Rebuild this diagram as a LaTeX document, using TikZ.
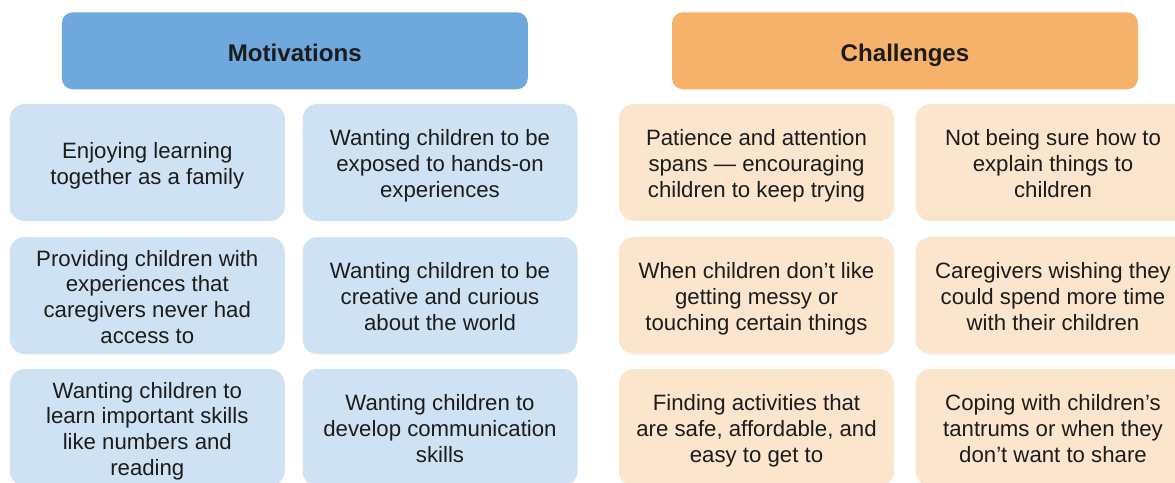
\documentclass[tikz,border=0pt]{standalone}
\usepackage{fontspec}
\setmainfont{Liberation Sans}
\definecolor{hblue}{HTML}{6FA8DC}
\definecolor{lblue}{HTML}{CFE2F3}
\definecolor{horange}{HTML}{F6B26B}
\definecolor{lorange}{HTML}{FCE5CD}
\definecolor{ink}{HTML}{1C1C1C}
\newcommand{\cellup}{\rule{0pt}{26pt}}
\newcommand{\celldn}{\rule[-7.7pt]{0pt}{7.7pt}}
\tikzset{
  hdr/.style={rounded corners=11pt, minimum width=466pt, minimum height=77pt, inner sep=0pt,
    text height=21.6pt, text depth=0pt,
    text=ink, font=\fontsize{24.1}{28}\selectfont\bfseries},
  cell/.style={rounded corners=15pt, minimum width=275pt, minimum height=117pt, inner sep=0pt,
    align=center, text=ink, font=\fontsize{22.2}{25.7}\selectfont},
  mot/.style={cell, fill=lblue},
  cha/.style={cell, fill=lorange},
}
\begin{document}
\begin{tikzpicture}[x=1pt,y=-1pt]
\useasboundingbox (0,0) rectangle (1175,482);
\clip (0,0) rectangle (1175,482);
\node[hdr, fill=hblue] (hm) at (294.8,50.8) {Motivations};
\node[hdr, fill=horange] (hc) at (905,50.8) {Challenges};
% motivations
\node[mot] (m11) at (147.3,162.5) {\cellup Enjoying learning\\together as a family\celldn};
\node[mot] (m12) at (440,162.5) {\cellup Wanting children to be\\exposed to hands-on\\experiences\celldn};
\node[mot] (m21) at (147.3,295.5) {\cellup Providing children with\\experiences that\\caregivers never had\\access to\celldn};
\node[mot] (m22) at (440,295.5) {\cellup Wanting children to be\\creative and curious\\about the world\celldn};
\node[mot] (m31) at (147.3,427.5) {\cellup Wanting children to\\learn important skills\\like numbers and\\reading\celldn};
\node[mot] (m32) at (440,427.5) {\cellup Wanting children to\\develop communication\\skills\celldn};
% challenges
\node[cha] (c11) at (756.5,162.5) {\cellup Patience and attention\\spans — encouraging\\children to keep trying\celldn};
\node[cha] (c12) at (1053,162.5) {\cellup Not being sure how to\\explain things to\\children\celldn};
\node[cha] (c21) at (756.5,295.5) {\cellup When children don’t like\\getting messy or\\touching certain things\celldn};
\node[cha] (c22) at (1053,295.5) {\cellup Caregivers wishing they\\could spend more time\\with their children\celldn};
\node[cha] (c31) at (756.5,427.5) {\cellup Finding activities that\\are safe, affordable, and\\easy to get to\celldn};
\node[cha] (c32) at (1053,427.5) {\cellup Coping with children’s\\tantrums or when they\\don’t want to share\celldn};
\end{tikzpicture}
\end{document}
